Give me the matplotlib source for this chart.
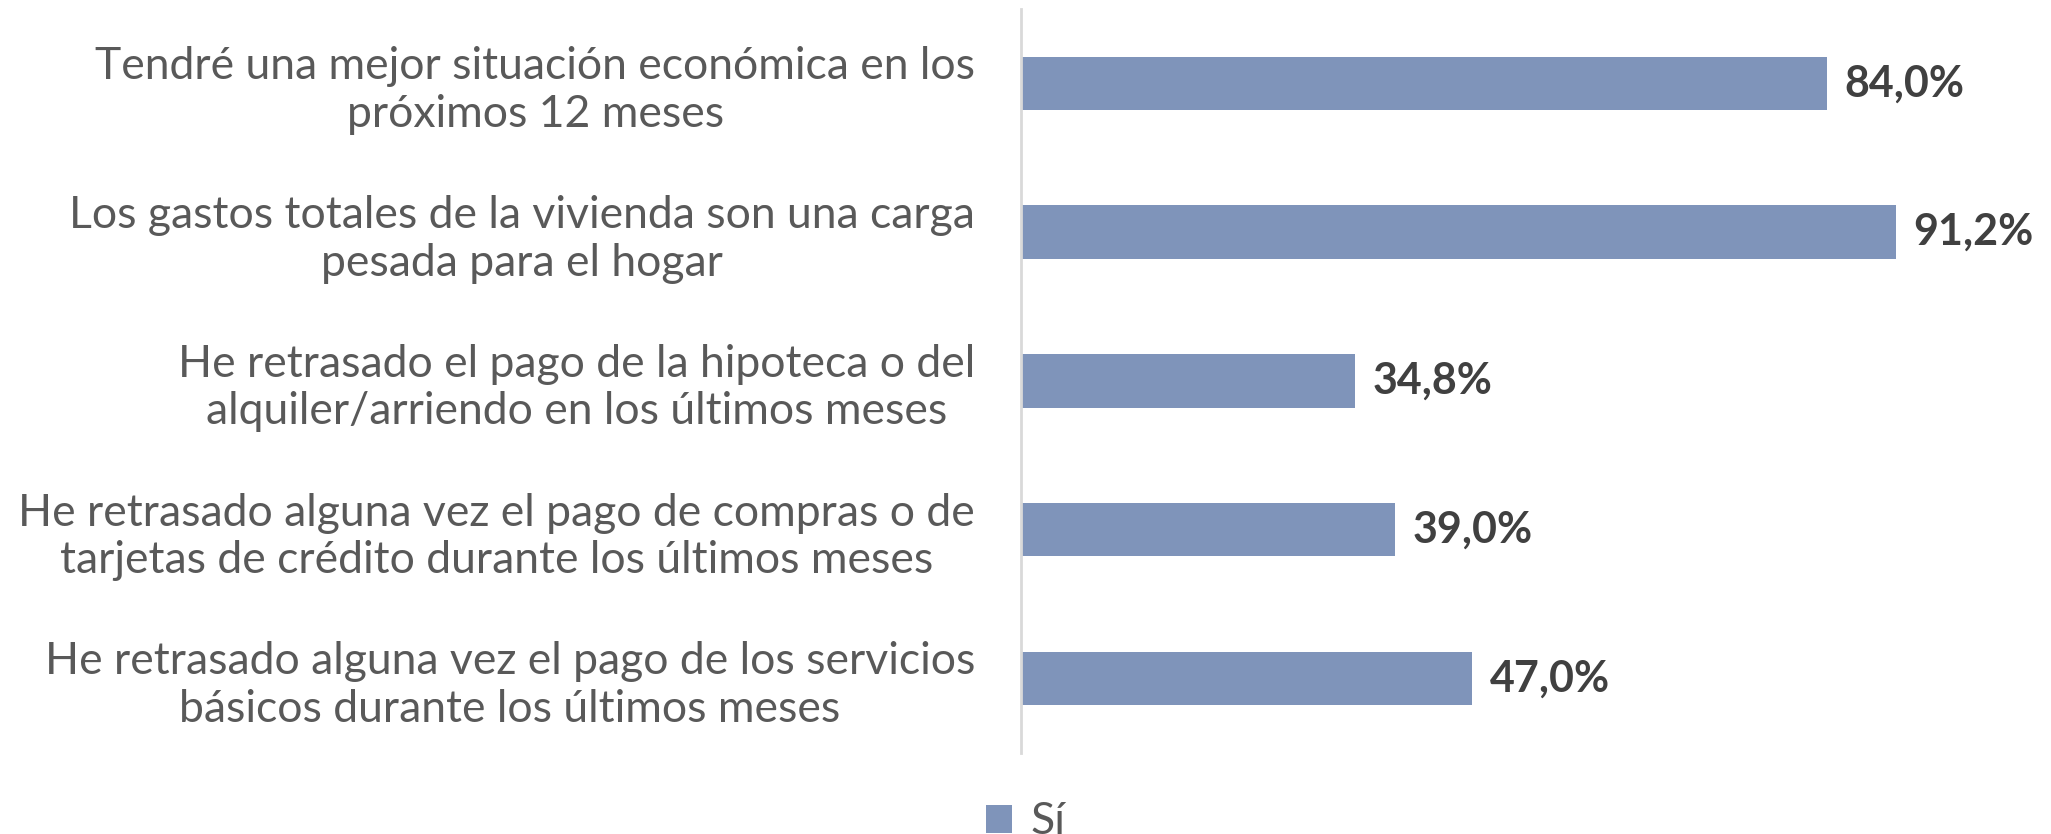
import matplotlib
matplotlib.use("Agg")
import matplotlib.pyplot as plt
from matplotlib.patches import Patch

categories = [
    "Tendré una mejor situación económica en los\npróximos 12 meses",
    "Los gastos totales de la vivienda son una carga\npesada para el hogar",
    "He retrasado el pago de la hipoteca o del\nalquiler/arriendo en los últimos meses",
    "He retrasado alguna vez el pago de compras o de\ntarjetas de crédito durante los últimos meses",
    "He retrasado alguna vez el pago de los servicios\nbásicos durante los últimos meses",
]
values = [84.0, 91.2, 34.8, 39.0, 47.0]
value_labels = ["84,0%", "91,2%", "34,8%", "39,0%", "47,0%"]
series_name = "Sí"

BAR = "#7F94BA"
TXT = "#595959"
LBL = "#404040"

plt.rcParams['font.family'] = ['Lato', 'DejaVu Sans']

fig = plt.figure(figsize=(20.51, 8.34), dpi=100)
ax = fig.add_axes([1021/2051, 1 - 752.7/834, (1980-1021)/2051, (752.7-9)/834])

ypos = list(range(len(categories)))
ax.barh(ypos, values, height=0.36, color=BAR, zorder=2)
ax.set_xlim(0, 100)
ax.set_ylim(len(categories) - 0.5, -0.5)

for y, v, t in zip(ypos, values, value_labels):
    ax.annotate(t, (v, y), xytext=(13, 0), textcoords="offset points",
                ha="left", va="center", fontsize=31, fontweight="bold", color=LBL)

ax.set_yticks(ypos)
ax.set_yticklabels(categories, fontsize=32, color=TXT)
for lab in ax.get_yticklabels():
    lab.set_multialignment("center")
    lab.set_linespacing(1.2)
ax.tick_params(axis="y", length=0, pad=33)
ax.set_xticks([])

for s in ["top", "right", "bottom"]:
    ax.spines[s].set_visible(False)
ax.spines["left"].set_color("#D9D9D9")
ax.spines["left"].set_linewidth(2)

handles = [Patch(facecolor=BAR, edgecolor="none", label=series_name)]
fig.legend(handles=handles, loc="lower center", bbox_to_anchor=(0.5, -0.01),
           frameon=False, fontsize=32, labelcolor=TXT, borderpad=0, borderaxespad=0,
           handlelength=0.6, handleheight=0.6, handletextpad=0.4)

fig.savefig("out.png", dpi=100, facecolor="white")
